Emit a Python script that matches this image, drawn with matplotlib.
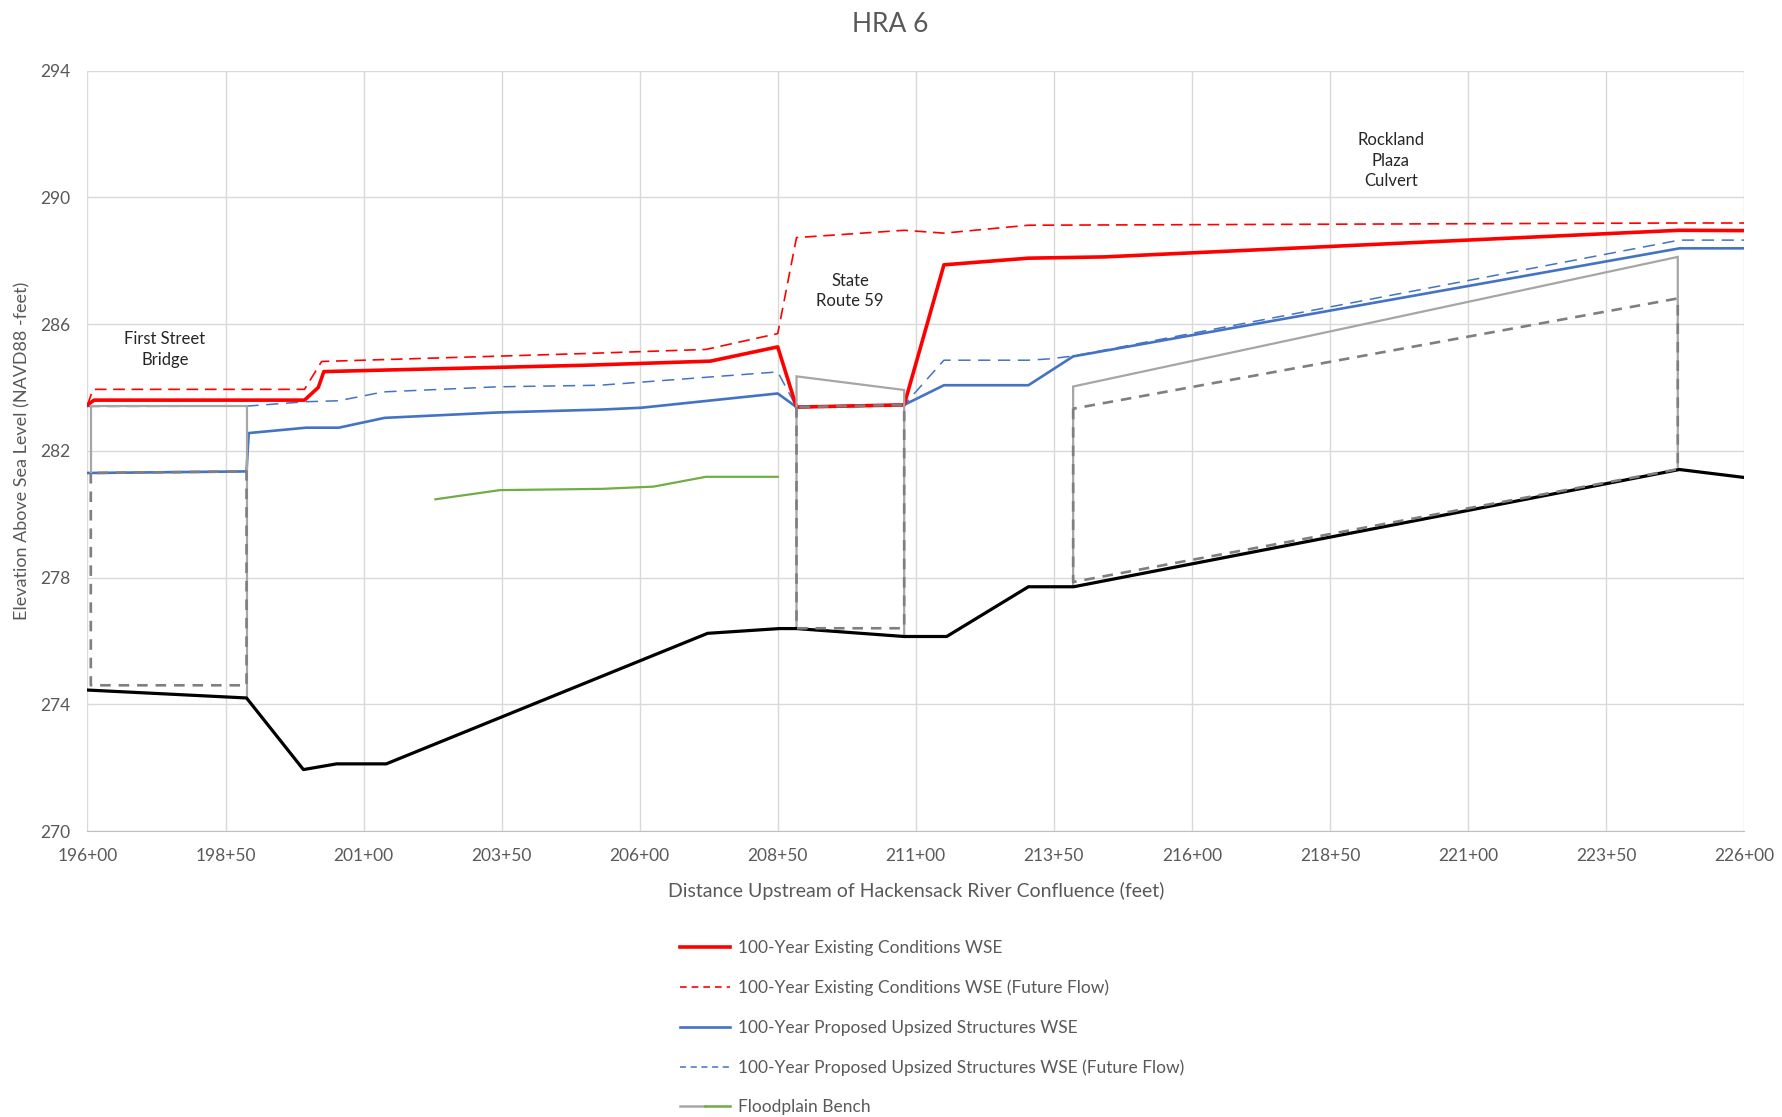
import numpy as np
import matplotlib
matplotlib.use("Agg")
import matplotlib.pyplot as plt
from matplotlib.lines import Line2D
from matplotlib.legend_handler import HandlerTuple
from matplotlib.ticker import FixedLocator, FuncFormatter

# ---------------------------------------------------------------------------
# Profile data (station in feet, elevation in feet NAVD88)
# ---------------------------------------------------------------------------
channel_sta  = [19600, 19888, 19991, 20051, 20141, 20723, 20853, 20884,
                21079, 21156, 21304, 21386, 22483, 22600]
channel_elev = [274.45, 274.20, 271.94, 272.12, 272.12, 276.24, 276.39, 276.39,
                276.14, 276.14, 277.71, 277.71, 281.41, 281.16]

exist_sta  = [19600, 19612, 19993, 20018, 20028, 20141, 20500, 20728,
              20850, 20884, 21079, 21151, 21304, 21441, 22483, 22600]
exist_elev = [283.45, 283.60, 283.60, 284.00, 284.50, 284.55, 284.70, 284.83,
              285.28, 283.38, 283.45, 287.87, 288.08, 288.12, 288.96, 288.95]

exist_ff_sta  = [19600, 19610, 19993, 20024, 20500, 20720, 20850, 20884,
                 21079, 21151, 21304, 22483, 22600]
exist_ff_elev = [283.45, 283.94, 283.94, 284.82, 285.07, 285.20, 285.70, 288.73,
                 288.96, 288.87, 289.12, 289.19, 289.19]

prop_sta  = [19600, 19888, 19892, 19996, 20055, 20138, 20342, 20528, 20603,
             20850, 20884, 21079, 21151, 21304, 21385, 22483, 22600]
prop_elev = [281.30, 281.35, 282.56, 282.73, 282.73, 283.04, 283.21, 283.30, 283.36,
             283.81, 283.38, 283.45, 284.07, 284.07, 284.98, 288.39, 288.39]

prop_ff_sta  = [19600, 19888, 19996, 20055, 20136, 20342, 20528, 20850, 20884,
                21079, 21151, 21304, 21340, 21385, 22483, 22600]
prop_ff_elev = [283.40, 283.41, 283.55, 283.58, 283.86, 284.02, 284.07, 284.49, 283.38,
                283.45, 284.86, 284.86, 284.90, 284.99, 288.65, 288.65]

bench_sta  = [20230, 20347, 20532, 20625, 20720, 20850]
bench_elev = [280.47, 280.76, 280.80, 280.87, 281.18, 281.18]

# existing structure outlines (deck / road crest and abutments)
exist_struct = [
    ([19606, 19606, 19888, 19888], [281.30, 283.40, 283.40, 274.20]),
    ([20884, 20884, 21079, 21079], [276.39, 284.35, 283.92, 276.14]),
    ([21385, 21385, 22480, 22480], [277.71, 284.03, 288.12, 281.41]),
]
# proposed upsized openings
prop_struct = [
    ([19606, 19606, 19888, 19888, 19606], [281.30, 274.60, 274.60, 281.35, 281.30]),
    ([20884, 20884, 21079, 21079, 20884], [283.38, 276.40, 276.40, 283.45, 283.38]),
    ([21385, 21385, 22480, 22480, 21385], [283.33, 277.86, 281.42, 286.81, 283.33]),
]

struct_names = ["First Street\nBridge", "State\nRoute 59", "Rockland\nPlaza\nCulvert"]
struct_label_pos = [(19740, 285.2), (20981, 287.05), (21960, 291.15)]

x_ticks = list(range(19600, 22601, 250))
y_ticks = list(range(270, 295, 4))

legend_labels = [
    "100-Year Existing Conditions WSE",
    "100-Year Existing Conditions WSE (Future Flow)",
    "100-Year Proposed Upsized Structures WSE",
    "100-Year Proposed Upsized Structures WSE (Future Flow)",
    "Floodplain Bench",
]

# ---------------------------------------------------------------------------
# Style
# ---------------------------------------------------------------------------
plt.rcParams["font.family"] = ["Lato", "DejaVu Sans"]
TXT_GRAY = "#595959"
RED = "#ff0000"
BLUE = "#4472c4"
GRAY_S = "#a6a6a6"
GRAY_D = "#7f7f7f"
GREEN = "#70ad47"


def station_fmt(v, _pos=None):
    v = int(round(v))
    return f"{v // 100}+{v % 100:02d}"


def main() -> None:
    fig = plt.figure(figsize=(17.82, 11.17), dpi=100)
    ax = fig.add_axes([0.0491, 0.256, 0.9296, 0.6808])

    # ---- structures ------------------------------------------------------
    for xs, ys in exist_struct:
        ax.plot(xs, ys, color=GRAY_S, lw=1.6, zorder=4, solid_joinstyle="miter")
    for xs, ys in prop_struct:
        ax.plot(xs, ys, color=GRAY_D, lw=1.9, ls=(0, (4, 3)), zorder=6)

    # ---- profiles --------------------------------------------------------
    ax.plot(channel_sta, channel_elev, color="black", lw=2.3, zorder=5)
    ax.plot(bench_sta, bench_elev, color=GREEN, lw=1.6, zorder=3)
    ax.plot(prop_ff_sta, prop_ff_elev, color=BLUE, lw=1.1, ls=(0, (8, 5)), zorder=3)
    ax.plot(prop_sta, prop_elev, color=BLUE, lw=1.9, zorder=3)
    ax.plot(exist_ff_sta, exist_ff_elev, color=RED, lw=1.2, ls=(0, (7, 4)), zorder=3)
    ax.plot(exist_sta, exist_elev, color=RED, lw=2.6, zorder=3)

    for name, (sx, sy) in zip(struct_names, struct_label_pos):
        ax.text(sx, sy, name, ha="center", va="center", fontsize=12,
                color="#262626", linespacing=1.35, zorder=7)

    # ---- axes ------------------------------------------------------------
    ax.set_xlim(19600, 22600)
    ax.set_ylim(270, 294)
    ax.xaxis.set_major_locator(FixedLocator(x_ticks))
    ax.xaxis.set_major_formatter(FuncFormatter(station_fmt))
    ax.yaxis.set_major_locator(FixedLocator(y_ticks))
    ax.tick_params(length=0, labelsize=12.5, labelcolor=TXT_GRAY, pad=12)
    ax.grid(True, color="#d9d9d9", lw=1.0, zorder=0)
    ax.set_axisbelow(True)
    for side in ["top", "right", "left"]:
        ax.spines[side].set_visible(False)
    ax.spines["bottom"].set_color("#bfbfbf")

    ax.set_xlabel("Distance Upstream of Hackensack River Confluence (feet)",
                  fontsize=14, color=TXT_GRAY, labelpad=13)
    ax.set_ylabel("Elevation Above Sea Level (NAVD88 -feet)",
                  fontsize=13, color=TXT_GRAY, labelpad=7)
    fig.text(0.4994, 0.978, "HRA 6", ha="center", va="center",
             fontsize=19, color=TXT_GRAY)

    # ---- legend ----------------------------------------------------------
    handles = [
        Line2D([], [], color=RED, lw=2.6),
        Line2D([], [], color=RED, lw=1.2, ls=(0, (4, 3))),
        Line2D([], [], color=BLUE, lw=1.9),
        Line2D([], [], color=BLUE, lw=1.1, ls=(0, (4, 3))),
        (Line2D([], [], color=GRAY_S, lw=1.8), Line2D([], [], color=GREEN, lw=1.8)),
    ]
    fig.legend(handles, legend_labels, loc="upper left",
               bbox_to_anchor=(0.3765, 0.166), frameon=False, fontsize=12.5,
               labelcolor=TXT_GRAY, handlelength=2.9, handletextpad=0.45,
               labelspacing=1.35, borderpad=0,
               handler_map={tuple: HandlerTuple(ndivide=None, pad=0)})

    fig.savefig("out.png", dpi=100)
    plt.close(fig)


if __name__ == "__main__":
    main()
